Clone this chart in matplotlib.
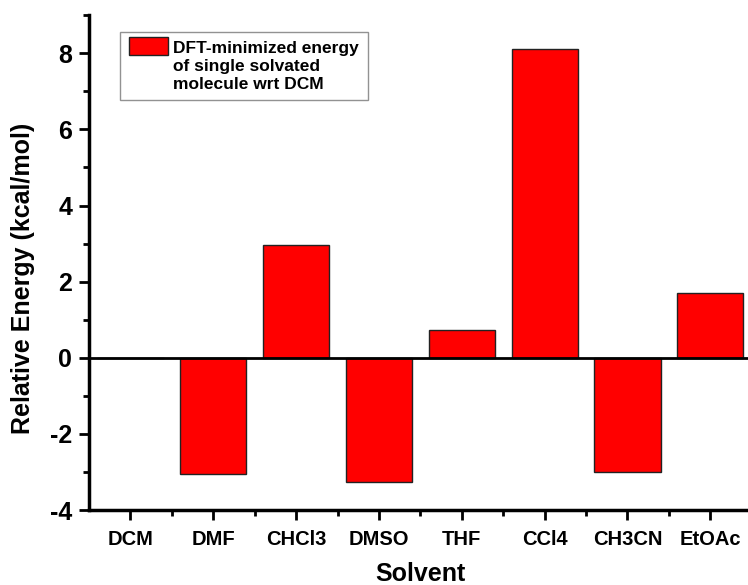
import numpy as np
import matplotlib
matplotlib.use("Agg")
import matplotlib.pyplot as plt
import matplotlib.patches as mpatches
from matplotlib.container import BarContainer
from matplotlib.legend_handler import HandlerPatch, update_from_first_child
from matplotlib.ticker import MultipleLocator, FixedLocator

plt.rcParams['font.family'] = ['Liberation Sans', 'DejaVu Sans']
plt.rcParams['font.weight'] = 'bold'
plt.rcParams['axes.unicode_minus'] = False

# solvents and relative energies (kcal/mol)
solvents = ["DCM", "DMF", "CHCl3", "DMSO", "THF", "CCl4", "CH3CN", "EtOAc"]
energy = [0.0, -3.04, 2.96, -3.27, 0.73, 8.10, -3.01, 1.70]

legend_label = "DFT-minimized energy\nof single solvated\nmolecule wrt DCM"


# legend patch sits beside the first text line only
def top_patch(legend, orig_handle, xdescent, ydescent, width, height, fontsize):
    h = 1.05 * fontsize
    y0 = -ydescent + height - h + 0.55 * fontsize
    return mpatches.Rectangle((-xdescent, y0), width, h)


fig = plt.figure(figsize=(7.48, 5.85), dpi=100)
ax = fig.add_axes([0.119, 0.128, 0.886, 0.846])

x = np.arange(len(solvents))
ax.bar(x, energy, width=0.8, color="#ff0000", edgecolor="#222222",
       linewidth=1.0, label=legend_label, zorder=2)
ax.axhline(0, color="black", linewidth=2.0, zorder=3)

ax.set_xlim(-0.5, 7.5)
ax.set_ylim(-4, 9)

ax.spines['top'].set_visible(False)
ax.spines['right'].set_visible(False)
ax.spines['left'].set_linewidth(2.5)
ax.spines['bottom'].set_linewidth(2.5)

ax.set_xticks(x)
ax.set_xticklabels(solvents, fontsize=14.5, fontweight='bold')
ax.xaxis.set_minor_locator(FixedLocator(x[:-1] + 0.5))
ax.yaxis.set_major_locator(MultipleLocator(2))
ax.yaxis.set_minor_locator(MultipleLocator(1))
for lbl in ax.get_yticklabels():
    lbl.set_fontsize(18)
    lbl.set_fontweight('bold')

ax.tick_params(which='major', direction='out', length=7, width=2)
ax.tick_params(which='minor', direction='out', length=4, width=2)
ax.tick_params(axis='x', which='major', pad=7)
ax.tick_params(axis='y', which='major', pad=5)

ax.set_xlabel("Solvent", fontsize=18, fontweight='bold', labelpad=10)
ax.set_ylabel("Relative Energy (kcal/mol)", fontsize=18, fontweight='bold')
ax.yaxis.set_label_coords(-0.081, 0.469)

leg = ax.legend(loc="upper left", bbox_to_anchor=(0.047, 0.966),
                borderaxespad=0, fancybox=False, frameon=True,
                prop={'size': 12.5, 'weight': 'bold'},
                handlelength=2.25, handleheight=3.3, handletextpad=0.3,
                borderpad=0.5,
                handler_map={BarContainer: HandlerPatch(
                    patch_func=top_patch, update_func=update_from_first_child)})
leg.get_frame().set_edgecolor("#777777")
leg.get_frame().set_linewidth(1.0)
for t in leg.get_texts():
    t.set_linespacing(1.25)

fig.savefig("out.png", dpi=100)
